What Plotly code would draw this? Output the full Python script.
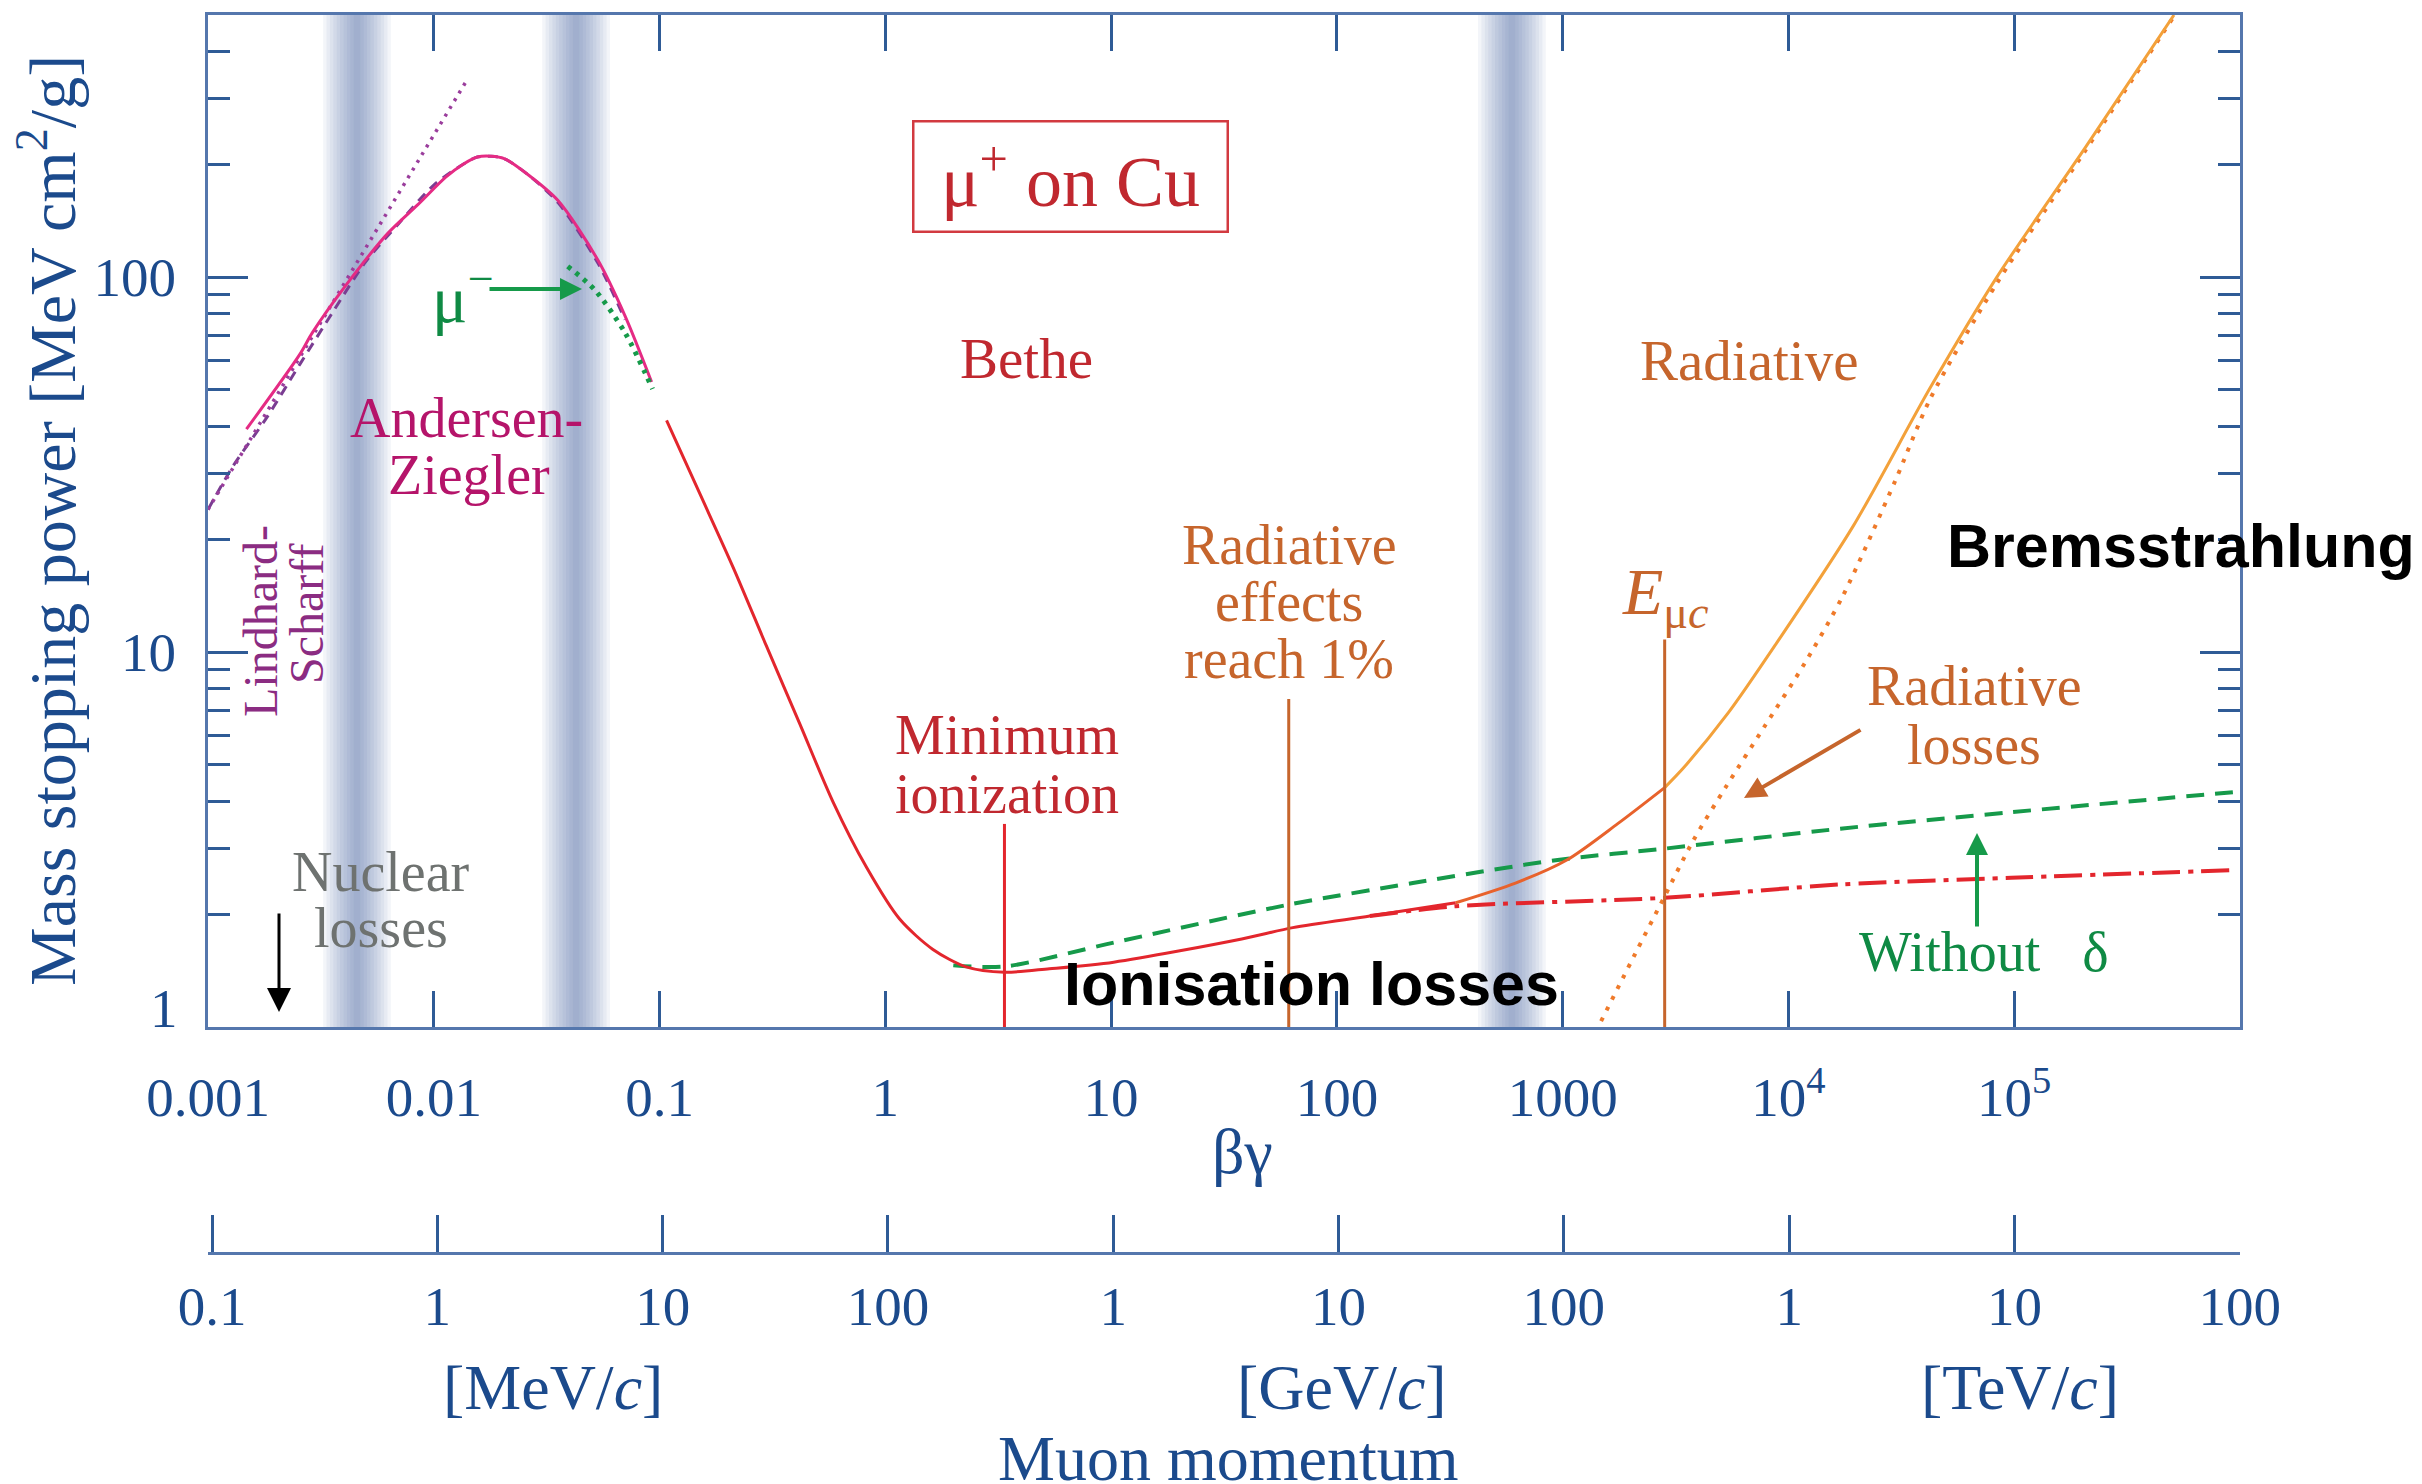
import numpy as np
import plotly.graph_objects as go

# ---------------- values ----------------
# axis ticks
bg_ticks = [1e-3, 1e-2, 1e-1, 1, 10, 100, 1000, 1e4, 1e5]
bg_ticktext = ["0.001", "0.01", "0.1", "1", "10", "100", "1000", "10<sup>4</sup>", "10<sup>5</sup>"]
S_ticks = [1, 10, 100]
S_ticktext = ["", "10", "100"]      # the "1" label sits raised at the corner (drawn separately)
S_minor = [2, 3, 4, 5, 6, 7, 8, 9, 20, 30, 40, 50, 60, 70, 80, 90, 200, 300, 400]
mom_ticks = [0.1, 1, 10, 100, 1e3, 1e4, 1e5, 1e6, 1e7, 1e8]          # MeV/c
mom_ticktext = ["0.1", "1", "10", "100", "1", "10", "100", "1", "10", "100"]

# shaded region boundaries (beta*gamma)
band_centres = [0.00457, 0.0427, 596]

# Andersen-Ziegler (mu+), solid magenta
az_bg = [0.00148, 0.00255, 0.0029, 0.00411, 0.00627, 0.0085, 0.01133, 0.0135, 0.0156, 0.0180, 0.0205, 0.0260, 0.0355, 0.0533, 0.0703, 0.0922]
az_S = [39.3, 62.2, 71.1, 95.6, 131, 156, 185, 200, 209, 210, 207, 188, 160, 111, 78.8, 52.5]

# purple dashed low-energy curve
pd_bg = [0.00100, 0.00129, 0.00182, 0.00255, 0.00359, 0.0050, 0.0070, 0.0100, 0.0135, 0.0156, 0.0180, 0.0205, 0.0260, 0.0355, 0.0533, 0.0703]
pd_S = [24.0, 31.3, 42.2, 58.5, 81.1, 110, 139, 176, 200, 209, 210, 207, 188, 158, 109, 77]

# Lindhard-Scharff straight dotted line
ls_bg = [0.00100, 0.01397]
ls_S = [24.0, 334]

# mu- (green dotted)
mum_bg = [0.0392, 0.0515, 0.0703, 0.0931]
mum_S = [106.8, 92.6, 71.1, 50.3]

# Bethe (red solid)
bethe_bg = [0.1074, 0.151, 0.212, 0.297, 0.418, 0.587, 0.824, 1.157, 1.625, 2.28, 3.37, 5.33, 10.27, 37.9, 63.8, 140, 336]
bethe_S = [41.5, 26.4, 16.8, 10.4, 6.43, 3.98, 2.67, 1.94, 1.61, 1.447, 1.40, 1.43, 1.489, 1.717, 1.841, 1.977, 2.144]

# transition (orange-red solid) up to E_muc
trans_bg = [336, 618, 1043, 1754, 2830]
trans_S = [2.144, 2.42, 2.788, 3.486, 4.35]

# total with radiative (orange solid)
tot_bg = [2830, 3440, 5430, 8800, 19380, 42560, 83500, 2.06e5, 5.1e5]
tot_S = [4.35, 4.92, 6.9, 10.5, 21.7, 50.8, 99.7, 221, 500]

# radiative losses only (orange dotted)
rad_bg = [1400, 2082, 2806, 3785, 5280, 7860, 11700, 17400, 29700, 42560, 83500, 2.06e5, 5.1e5]
rad_S = [0.97, 1.556, 2.21, 3.14, 4.365, 6.35, 9.25, 14.1, 28.6, 47.5, 96, 217, 496]

# ionisation without delta-ray correction (green dashed)
nod_bg = [2.0, 3.37, 10.3, 61.2, 217, 950, 2830, 16980, 97000, 9.3e5]
nod_S = [1.46, 1.45, 1.68, 2.12, 2.42, 2.79, 2.99, 3.38, 3.74, 4.23]

# ionisation only (red dash-dot)
ion_bg = [140, 336, 2830, 16980, 97000, 9.3e5]
ion_S = [1.977, 2.10, 2.21, 2.40, 2.50, 2.62]

# vertical markers: minimum ionisation, radiative 1 %, E_muc
marker_bg = [3.37, 61.2, 2830]
marker_top = [3.48, 7.5, 10.8]

# ---------------- styling ----------------
W, H = 2422, 1484
ML, MR, MT, MB = 208, 182, 15, 0
PW, PH = W - ML - MR, H - MT - MB
SERIF = "Liberation Serif, Times New Roman, serif"
SANS = "Liberation Sans, Arial, sans-serif"
BLUE = "#1b4a8c"
AXC = "#5577ad"
TICKC = "#2f5b96"
RED = "#e3262d"
REDTXT = "#c0282f"
BROWN = "#c6652c"
ORANGE = "#f3a13a"
ORANGERED = "#e8622c"
MAGENTA = "#e52b84"
MAGTXT = "#b5146a"
PURPLE = "#7a3d92"
PURTXT = "#8b2c82"
GREEN = "#169a4a"
GREENTXT = "#0f8a44"
GRAY = "#6e7270"


def PX(x):
    return (x - ML) / PW


def PY(y):
    return (H - y) / PH


fig = go.Figure()


def curve(x, y, color, width, dash="solid", xaxis="x", smooth=True):
    shape = "spline" if (smooth and len(x) > 2) else "linear"
    fig.add_trace(go.Scatter(x=x, y=y, mode="lines", xaxis=xaxis,
                             line=dict(color=color, width=width, dash=dash, shape=shape,
                                       smoothing=0.8),
                             hoverinfo="skip", showlegend=False))


# shaded bands (soft gradient)
N = 10
for c in band_centres:
    lc = np.log10(c)
    for i in range(N):
        hw = 0.15 * (i + 1) / N
        fig.add_shape(type="rect", xref="x", yref="y domain", x0=10 ** (lc - hw), x1=10 ** (lc + hw),
                      y0=0, y1=1, fillcolor="rgba(70,95,160,0.062)", line_width=0, layer="below")

curve(pd_bg, pd_S, PURPLE, 3, "10px,7px")
curve(ls_bg, ls_S, "#9a3d9c", 3.5, "3px,6px")
curve(az_bg, az_S, MAGENTA, 3)
curve(mum_bg, mum_S, GREEN, 5, "4px,6px")
curve(nod_bg, nod_S, GREEN, 4, "18px,11px")
curve(ion_bg, ion_S, RED, 4, "28px,8px,5px,8px")
curve(bethe_bg, bethe_S, RED, 3)
curve(trans_bg, trans_S, ORANGERED, 3)
curve(rad_bg, rad_S, "#ef7a2a", 4, "4px,8px")
curve(tot_bg, tot_S, ORANGE, 3)

marker_colors = [RED, BROWN, BROWN]
for bgv, top, col in zip(marker_bg, marker_top, marker_colors):
    curve([bgv, bgv], [1, top], col, 3, smooth=False)

# invisible trace so the momentum axis is drawn
fig.add_trace(go.Scatter(x=mom_ticks, y=[1] * len(mom_ticks), xaxis="x2", mode="markers",
                         marker=dict(opacity=0), hoverinfo="skip", showlegend=False))


def txt(s, x, y, size, color, family=SERIF, angle=0, xanchor="center", **kw):
    fig.add_annotation(text=s, x=PX(x), y=PY(y), xref="paper", yref="paper", showarrow=False,
                       font=dict(family=family, size=size, color=color), textangle=angle,
                       xanchor=xanchor, yanchor="middle", **kw)


def arrow(hx, hy, tx, ty, color, width=4, size=1.1):
    fig.add_annotation(x=PX(hx), y=PY(hy), xref="paper", yref="paper", ax=tx - hx, ay=ty - hy,
                       axref="pixel", ayref="pixel", text="", showarrow=True, arrowhead=2,
                       arrowsize=size, arrowwidth=width, arrowcolor=color)


# labels inside plot
txt("μ<sup>+</sup> on Cu", 1070, 176, 72, REDTXT, bordercolor="#d23a40", borderwidth=2.5,
    borderpad=8, width=296, height=92)
txt("Bethe", 1026, 358, 57, REDTXT)
txt("Radiative", 1749, 360, 57, BROWN)
txt("Andersen-", 466, 418, 56, MAGTXT)
txt("Ziegler", 469, 475, 56, MAGTXT)
txt("Lindhard-", 260, 621, 48, PURTXT, angle=-90)
txt("Scharff", 306, 614, 48, PURTXT, angle=-90)
txt("μ<sup>−</sup>", 462, 294, 66, GREENTXT)
arrow(582, 289, 488, 289, GREEN, 4)
txt("Nuclear", 381, 872, 56, GRAY)
txt("losses", 381, 928, 56, GRAY)
arrow(279, 1012, 279, 912, "black", 3, 1.6)
txt("Minimum", 1007, 735, 56, REDTXT)
txt("ionization", 1007, 794, 56, REDTXT)
txt("Radiative", 1289, 545, 56, BROWN)
txt("effects", 1289, 602, 56, BROWN)
txt("reach 1%", 1289, 659, 56, BROWN)
txt("<i>E</i><sub>μ<i>c</i></sub>", 1665, 596, 66, BROWN)
txt("Radiative", 1974, 686, 56, BROWN)
txt("losses", 1974, 745, 56, BROWN)
arrow(1744, 798, 1862, 729, BROWN, 4)
txt("Without   δ", 1984, 952, 56, GREENTXT)
arrow(1977, 833, 1977, 928, GREEN, 4)
txt("<b>Bremsstrahlung</b>", 2181, 546, 61, "black", family=SANS)
txt("<b>Ionisation losses</b>", 1311, 984, 61, "black", family=SANS)

# raised "1" tick label at the lower-left corner
txt("1", 180, 1008, 55, BLUE, xanchor="right")

# axis titles
txt("Mass stopping power [MeV cm<sup>2</sup>/g]", 47, 521, 66, BLUE, angle=-90)
txt("βγ", 1242, 1151, 64, BLUE)
txt("[MeV/<i>c</i>]", 553, 1387, 64, BLUE)
txt("[GeV/<i>c</i>]", 1342, 1387, 64, BLUE)
txt("[TeV/<i>c</i>]", 2020, 1387, 64, BLUE)
txt("Muon momentum", 1228, 1458, 64, BLUE)

tickfont = dict(family=SERIF, size=55, color=BLUE)
fig.update_layout(
    width=W, height=H,
    margin=dict(l=ML, r=MR, t=MT, b=MB, pad=0),
    paper_bgcolor="white", plot_bgcolor="white", showlegend=False,
    xaxis=dict(type="log", range=[-3, 6], showgrid=False, zeroline=False,
               showline=True, linecolor=AXC, linewidth=3, mirror="ticks",
               ticks="inside", ticklen=36, tickwidth=2.5, tickcolor=TICKC,
               tickmode="array", tickvals=bg_ticks, ticktext=bg_ticktext,
               tickfont=tickfont, ticklabelstandoff=20, automargin=False),
    yaxis=dict(type="log", range=[0, np.log10(500)], domain=[(H - 1027) / PH, 1],
               showgrid=False, zeroline=False,
               showline=True, linecolor=AXC, linewidth=3, mirror="ticks",
               ticks="inside", ticklen=40, tickwidth=3, tickcolor=TICKC,
               tickmode="array", tickvals=S_ticks, ticktext=S_ticktext,
               minor=dict(tickmode="array", tickvals=S_minor, ticks="inside", ticklen=22,
                          tickwidth=2.5, tickcolor=TICKC, showgrid=False),
               tickfont=tickfont, ticklabelstandoff=18, automargin=False),
    xaxis2=dict(type="log", range=[-1.018, 8.001], overlaying="x", anchor="free",
                position=(H - 1253) / PH, side="bottom", showgrid=False, zeroline=False,
                showline=True, linecolor=AXC, linewidth=3,
                ticks="inside", ticklen=37, tickwidth=2.5, tickcolor=TICKC,
                tickmode="array", tickvals=mom_ticks, ticktext=mom_ticktext,
                tickfont=tickfont, ticklabelstandoff=4, automargin=False),
)

fig.write_html("out.html")
